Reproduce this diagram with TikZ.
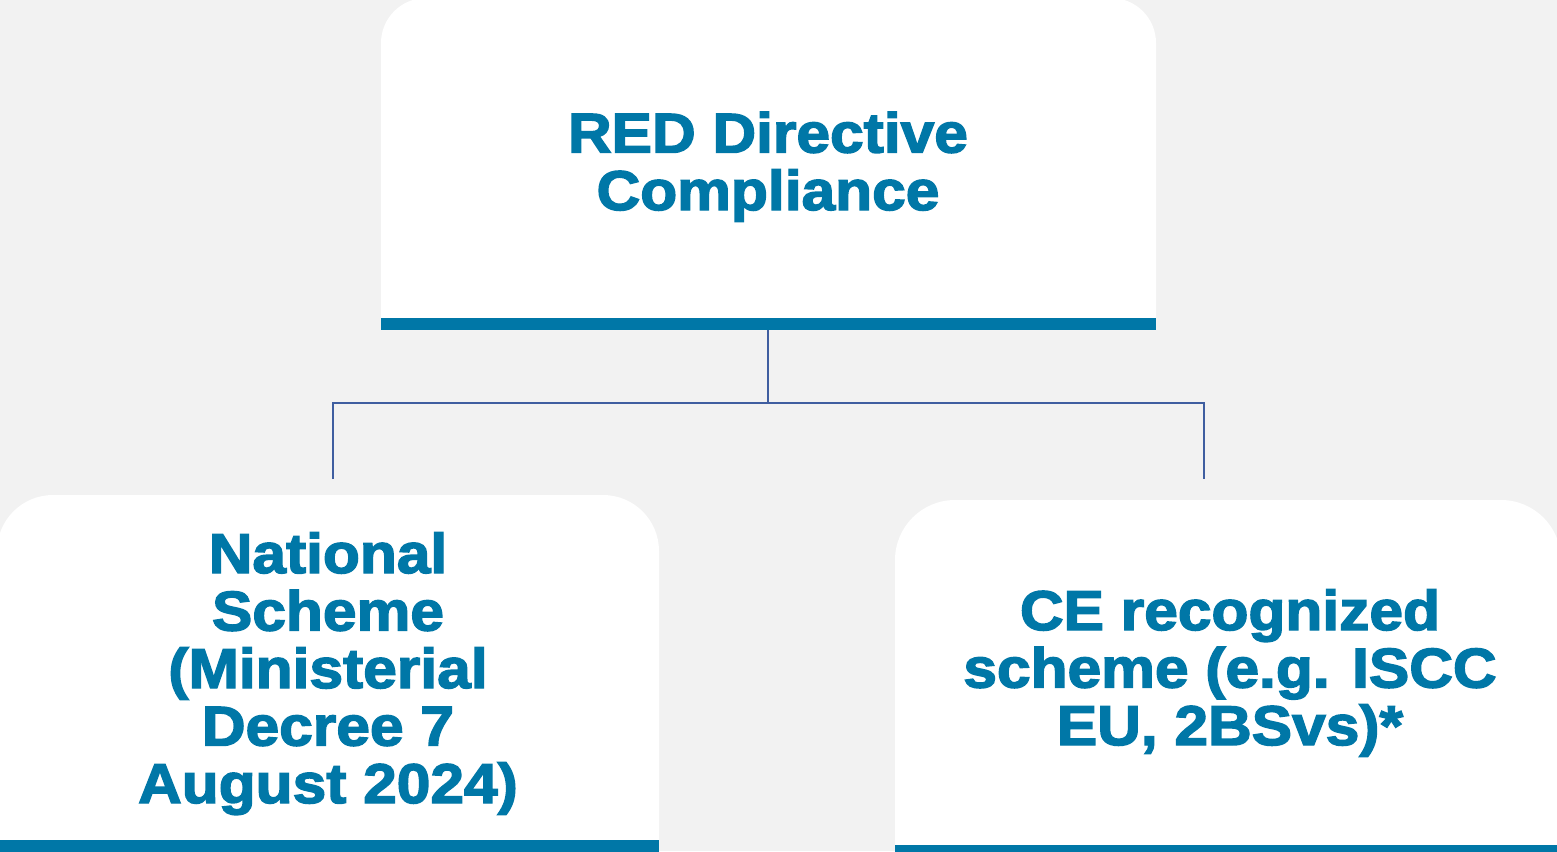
\documentclass[tikz,border=0pt]{standalone}
\usepackage{fontspec}
\newfontfamily\bk{Liberation Sans Bold}[FakeStretch=1.08,FakeBold=2.6]
\definecolor{bgc}{RGB}{242,242,242}
\definecolor{bluec}{RGB}{0,119,167}
\definecolor{linec}{RGB}{63,94,160}
\begin{document}
\begin{tikzpicture}[x=1pt,y=-1pt,
  boxtext/.style={text=bluec,font=\bk\fontsize{56}{57.5}\selectfont,align=center,inner sep=0pt},
  conn/.style={draw=linec,line width=2.5pt}]
\useasboundingbox (0,0) rectangle (1557,851);
\fill[bgc] (0,0) rectangle (1557,851);
% top box
\fill[white] (381,330) [rounded corners=45pt] -- (381,-2) -- (1156,-2) [sharp corners] -- (1156,330) -- cycle;
\fill[bluec] (381,318) rectangle (1156,330);
% left box
\fill[white] (-3,855) [rounded corners=56pt] -- (-3,495) -- (659,495) [sharp corners] -- (659,855) -- cycle;
\fill[bluec] (-3,840) rectangle (659,855);
% right box
\fill[white] (895,855) [rounded corners=60pt] -- (895,500) -- (1561,500) [sharp corners] -- (1561,855) -- cycle;
\fill[bluec] (895,845) rectangle (1561,855);
% texts (anchor base = baseline of last line)
\node[boxtext,anchor=base] (red) at (768,210) {RED Directive\\Compliance};
\node[boxtext,anchor=base] (nat) at (328,803) {National\\Scheme\\(Ministerial\\Decree 7\\August 2024)};
\node[boxtext,anchor=base] (ce) at (1230,745) {CE recognized\\scheme (e.g. ISCC\\EU, 2BSvs)*};
% connectors
\coordinate (topb) at (768,330);
\coordinate (junc) at (768,403);
\coordinate (lt) at (333,479);
\coordinate (rt) at (1204,479);
\draw[conn] (topb) -- (junc);
\draw[conn] (lt) |- (junc) -| (rt);
\end{tikzpicture}
\end{document}
